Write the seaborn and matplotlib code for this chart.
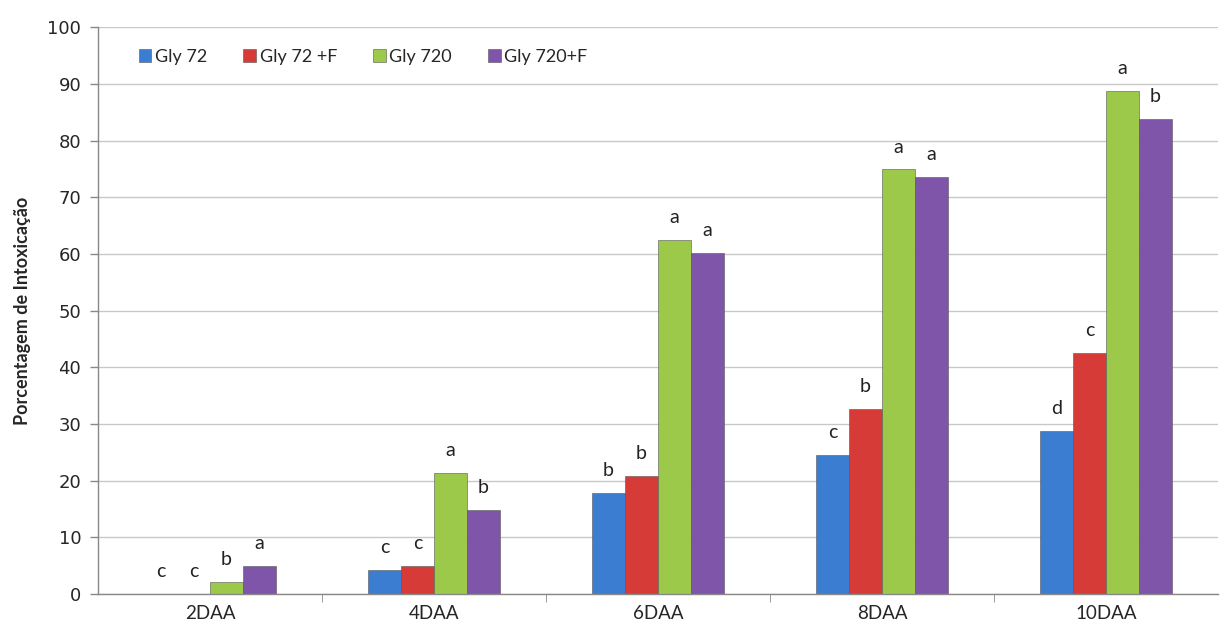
import numpy as np
import pandas as pd
import seaborn as sns
import matplotlib.pyplot as plt

# data
days = ["2DAA", "4DAA", "6DAA", "8DAA", "10DAA"]
treatments = ["Gly 72", "Gly 72 +F", "Gly 720", "Gly 720+F"]
gly72 = [0.0, 4.2, 17.9, 24.5, 28.7]
gly72_f = [0.0, 5.0, 20.8, 32.6, 42.6]
gly720 = [2.1, 21.4, 62.4, 74.9, 88.7]
gly720_f = [5.0, 14.9, 60.1, 73.6, 83.8]
letters = {
    "Gly 72": ["c", "c", "b", "c", "d"],
    "Gly 72 +F": ["c", "c", "b", "b", "c"],
    "Gly 720": ["b", "a", "a", "a", "a"],
    "Gly 720+F": ["a", "b", "a", "a", "b"],
}
colors = ["#3b7dd0", "#d63b38", "#9cc94a", "#7f55aa"]

series = [gly72, gly72_f, gly720, gly720_f]
df = pd.DataFrame({
    "Dia": np.tile(days, len(treatments)),
    "Tratamento": np.repeat(treatments, len(days)),
    "Valor": np.concatenate(series),
})

sns.set_style("white")
plt.rcParams["font.family"] = ["Lato", "DejaVu Sans"]

fig = plt.figure(figsize=(12.2, 6.33), dpi=100)
ax = fig.add_axes([0.0803, 0.0616, 0.918, 0.8955])

sns.barplot(data=df, x="Dia", y="Valor", hue="Tratamento", order=days,
            hue_order=treatments, palette=colors, width=0.59, saturation=1,
            edgecolor="#555555", linewidth=0.4, ax=ax)

# significance letters over each bar
for cont, name in zip(ax.containers, treatments):
    ax.bar_label(cont, labels=letters[name], padding=10, fontsize=14,
                 color="#222222")

ax.set_ylim(0, 100)
ax.set_xlim(-0.5, 4.5)
ax.set_yticks(np.arange(0, 101, 10))
ax.yaxis.grid(True, color="#c8c8c8", linewidth=1)
ax.set_axisbelow(True)
ax.set_xlabel("")
ax.set_ylabel("Porcentagem de Intoxicação", fontsize=13, fontweight="bold",
              labelpad=12)

for lab in ax.get_yticklabels():
    lab.set_family("DejaVu Sans")
ax.tick_params(axis="y", labelsize=13, length=6, width=1, color="#888888",
               left=True, pad=6)
ax.tick_params(axis="x", labelsize=13.5, length=0, pad=8)
ax.set_xticks(np.arange(0.5, 4.5, 1), minor=True)
ax.tick_params(axis="x", which="minor", length=6, color="#888888", bottom=True)

sns.despine(ax=ax, top=True, right=True)
for s in ["left", "bottom"]:
    ax.spines[s].set_color("#888888")
    ax.spines[s].set_linewidth(1)

ax.legend(loc="upper left", bbox_to_anchor=(0.022, 0.99), ncol=4,
          frameon=False, fontsize=13, handlelength=0.7, handleheight=0.7,
          handletextpad=0.2, columnspacing=2.0, title=None)

fig.savefig("out.png", dpi=100)
